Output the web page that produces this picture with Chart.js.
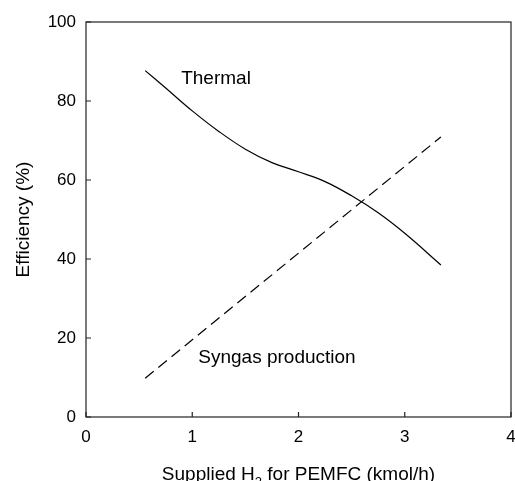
<!DOCTYPE html>
<html>
<head>
<meta charset="utf-8">
<script src="https://cdn.jsdelivr.net/npm/chart.js@4.4.1/dist/chart.umd.min.js"></script>
<style>
  html, body { margin: 0; padding: 0; background: #fff; }
  #wrap { width: 515px; height: 481px; }
</style>
</head>
<body>
<div id="wrap"><canvas id="myChart" width="515" height="481"></canvas></div>
<script>
// values
const thermalX = [0.557, 0.75, 1.0, 1.25, 1.5, 1.75, 2.0, 2.25, 2.5, 2.75, 3.0, 3.34];
const thermalY = [87.7, 83.3, 77.5, 72.3, 67.8, 64.4, 62.1, 59.6, 56.0, 51.7, 46.5, 38.5];
const syngasX = [0.557, 3.34];
const syngasY = [9.8, 70.9];
const xTicks = [0, 1, 2, 3, 4];
const yTicks = [0, 20, 40, 60, 80, 100];
const curveLabels = [
  { text: 'Thermal', x: 0.896, y: 84.4 },
  { text: 'Syngas production', x: 1.057, y: 13.7 }
];

const FONT = '"Liberation Sans", Arial, sans-serif';

function toPoints(xs, ys) {
  return xs.map((x, i) => ({ x: x, y: ys[i] }));
}

// frame, inside ticks, curve labels and x title with subscript
const extras = {
  id: 'extras',
  afterDraw(chart) {
    const ctx = chart.ctx;
    const a = chart.chartArea;
    const xs = chart.scales.x;
    const ys = chart.scales.y;
    ctx.save();
    ctx.strokeStyle = '#222';
    ctx.lineWidth = 1.2;
    ctx.strokeRect(a.left, a.top, a.right - a.left, a.bottom - a.top);

    ctx.beginPath();
    xTicks.forEach(v => {
      const px = xs.getPixelForValue(v);
      ctx.moveTo(px, a.bottom);
      ctx.lineTo(px, a.bottom - 5);
    });
    yTicks.forEach(v => {
      const py = ys.getPixelForValue(v);
      ctx.moveTo(a.left, py);
      ctx.lineTo(a.left + 5, py);
    });
    ctx.stroke();

    ctx.fillStyle = '#000';
    ctx.font = '19px ' + FONT;
    ctx.textBaseline = 'alphabetic';
    ctx.textAlign = 'left';
    curveLabels.forEach(l => {
      ctx.fillText(l.text, xs.getPixelForValue(l.x), ys.getPixelForValue(l.y));
    });

    // x axis title: Supplied H2 for PEMFC (kmol/h)
    const p1 = 'Supplied H', p2 = '2', p3 = ' for PEMFC (kmol/h)';
    ctx.font = '19px ' + FONT;
    const w1 = ctx.measureText(p1).width;
    const w3 = ctx.measureText(p3).width;
    ctx.font = '13px ' + FONT;
    const w2 = ctx.measureText(p2).width;
    const total = w1 + w2 + w3;
    let sx = (a.left + a.right) / 2 - total / 2;
    const base = 480;
    ctx.font = '19px ' + FONT;
    ctx.fillText(p1, sx, base);
    ctx.font = '13px ' + FONT;
    ctx.fillText(p2, sx + w1, base + 6);
    ctx.font = '19px ' + FONT;
    ctx.fillText(p3, sx + w1 + w2, base);
    ctx.restore();
  }
};

const data = {
  datasets: [{
    label: 'Thermal',
    data: toPoints(thermalX, thermalY),
    borderColor: '#000',
    borderWidth: 1.2,
    pointRadius: 0,
    tension: 0.4,
    fill: false
  }, {
    label: 'Syngas production',
    data: toPoints(syngasX, syngasY),
    borderColor: '#000',
    borderWidth: 1.2,
    borderDash: [11, 6],
    pointRadius: 0,
    fill: false
  }]
};

const config = {
  type: 'line',
  data: data,
  plugins: [extras],
  options: {
    responsive: false,
    animation: false,
    layout: { padding: { left: 0, right: 4, top: 22, bottom: 0 } },
    plugins: {
      legend: { display: false },
      tooltip: { enabled: false }
    },
    scales: {
      x: {
        type: 'linear',
        min: 0,
        max: 4,
        afterFit: function (scale) {
          scale.height = 64;
          scale.paddingLeft = 0;
          scale.paddingRight = 0;
        },
        afterBuildTicks: function (scale) { scale.ticks = xTicks.map(v => ({ value: v })); },
        grid: { display: false, drawTicks: false },
        border: { display: false },
        ticks: { padding: 10, color: '#000', font: { size: 17, family: FONT } }
      },
      y: {
        min: 0,
        max: 100,
        afterFit: function (scale) {
          scale.width = 86;
          scale.paddingTop = 0;
          scale.paddingBottom = 0;
        },
        afterBuildTicks: function (scale) { scale.ticks = yTicks.map(v => ({ value: v })); },
        grid: { display: false, drawTicks: false },
        border: { display: false },
        ticks: { padding: 10, color: '#000', font: { size: 17, family: FONT } },
        title: {
          display: true,
          text: 'Efficiency (%)',
          color: '#000',
          font: { size: 19, family: FONT },
          padding: { top: 12, bottom: 0 }
        }
      }
    }
  }
};

const myChart = new Chart(document.getElementById('myChart'), config);
</script>
</body>
</html>
